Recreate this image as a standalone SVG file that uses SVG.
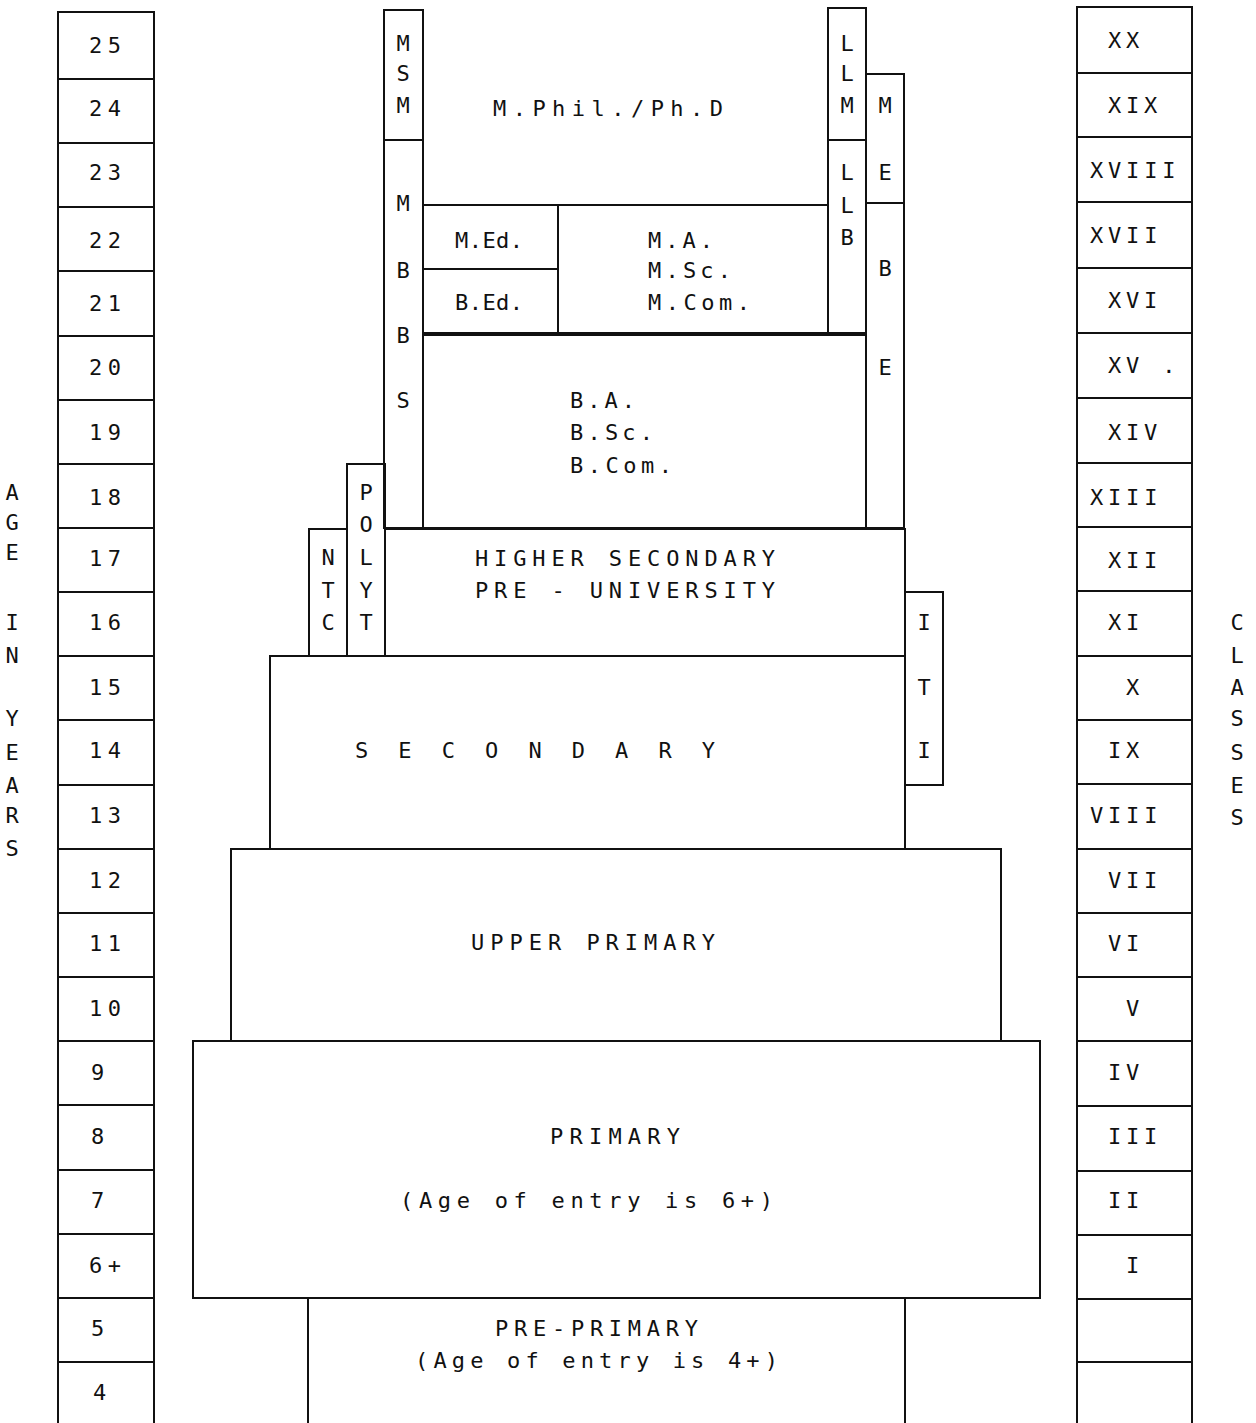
<svg xmlns="http://www.w3.org/2000/svg" width="1256" height="1423" viewBox="0 0 1256 1423">
<style>
rect,line,path{fill:none;stroke:#111;stroke-width:2}
text{font-family:"DejaVu Sans Mono","Liberation Mono",monospace;font-size:22px;fill:#111;letter-spacing:5px}
.v{text-anchor:middle;letter-spacing:0}
.a{letter-spacing:5.5px}
.c{letter-spacing:4.8px}
</style>
<rect width="1256" height="1423" fill="#fff" stroke="none" style="fill:#fff;stroke:none"/>
<g id="age-column">
<path d="M58,1423 V12 H154 V1423"/>
<line x1="58" y1="79" x2="154" y2="79"/><line x1="58" y1="143" x2="154" y2="143"/><line x1="58" y1="207" x2="154" y2="207"/><line x1="58" y1="271" x2="154" y2="271"/><line x1="58" y1="336" x2="154" y2="336"/><line x1="58" y1="400" x2="154" y2="400"/><line x1="58" y1="464" x2="154" y2="464"/><line x1="58" y1="528" x2="154" y2="528"/><line x1="58" y1="592" x2="154" y2="592"/><line x1="58" y1="656" x2="154" y2="656"/><line x1="58" y1="720" x2="154" y2="720"/><line x1="58" y1="785" x2="154" y2="785"/><line x1="58" y1="849" x2="154" y2="849"/><line x1="58" y1="913" x2="154" y2="913"/><line x1="58" y1="977" x2="154" y2="977"/><line x1="58" y1="1041" x2="154" y2="1041"/><line x1="58" y1="1105" x2="154" y2="1105"/><line x1="58" y1="1170" x2="154" y2="1170"/><line x1="58" y1="1234" x2="154" y2="1234"/><line x1="58" y1="1298" x2="154" y2="1298"/><line x1="58" y1="1362" x2="154" y2="1362"/>
<text x="89" y="53" class="a">25</text><text x="89" y="116" class="a">24</text><text x="89" y="180" class="a">23</text><text x="89" y="248" class="a">22</text><text x="89" y="311" class="a">21</text><text x="89" y="375" class="a">20</text><text x="89" y="440" class="a">19</text><text x="89" y="505" class="a">18</text><text x="89" y="566" class="a">17</text><text x="89" y="630" class="a">16</text><text x="89" y="695" class="a">15</text><text x="89" y="758" class="a">14</text><text x="89" y="823" class="a">13</text><text x="89" y="888" class="a">12</text><text x="89" y="951" class="a">11</text><text x="89" y="1016" class="a">10</text><text x="91" y="1080" class="a">9</text><text x="91" y="1144" class="a">8</text><text x="91" y="1208" class="a">7</text><text x="89" y="1273" class="a">6+</text><text x="91" y="1336" class="a">5</text><text x="93" y="1400" class="a">4</text>
</g>
<g id="age-label">
<text class="v" x="12" y="500">A</text><text class="v" x="12" y="530">G</text><text class="v" x="12" y="560">E</text><text class="v" x="12" y="630">I</text><text class="v" x="12" y="663">N</text><text class="v" x="12" y="726">Y</text><text class="v" x="12" y="760">E</text><text class="v" x="12" y="793">A</text><text class="v" x="12" y="823">R</text><text class="v" x="12" y="856">S</text>
</g>
<g id="class-column">
<path d="M1077,1423 V7 H1192 V1423"/>
<line x1="1077" y1="73" x2="1192" y2="73"/><line x1="1077" y1="137" x2="1192" y2="137"/><line x1="1077" y1="202" x2="1192" y2="202"/><line x1="1077" y1="268" x2="1192" y2="268"/><line x1="1077" y1="333" x2="1192" y2="333"/><line x1="1077" y1="398" x2="1192" y2="398"/><line x1="1077" y1="463" x2="1192" y2="463"/><line x1="1077" y1="527" x2="1192" y2="527"/><line x1="1077" y1="591" x2="1192" y2="591"/><line x1="1077" y1="656" x2="1192" y2="656"/><line x1="1077" y1="720" x2="1192" y2="720"/><line x1="1077" y1="784" x2="1192" y2="784"/><line x1="1077" y1="849" x2="1192" y2="849"/><line x1="1077" y1="913" x2="1192" y2="913"/><line x1="1077" y1="977" x2="1192" y2="977"/><line x1="1077" y1="1041" x2="1192" y2="1041"/><line x1="1077" y1="1106" x2="1192" y2="1106"/><line x1="1077" y1="1171" x2="1192" y2="1171"/><line x1="1077" y1="1235" x2="1192" y2="1235"/><line x1="1077" y1="1299" x2="1192" y2="1299"/><line x1="1077" y1="1362" x2="1192" y2="1362"/>
<text class="c" x="1108" y="48">XX</text><text class="c" x="1108" y="113">XIX</text><text class="c" x="1090" y="178">XVIII</text><text class="c" x="1090" y="243">XVII</text><text class="c" x="1108" y="308">XVI</text><text class="c" x="1108" y="373">XV .</text><text class="c" x="1108" y="440">XIV</text><text class="c" x="1090" y="505">XIII</text><text class="c" x="1108" y="568">XII</text><text class="c" x="1108" y="630">XI</text><text class="c" x="1126" y="695">X</text><text class="c" x="1108" y="758">IX</text><text class="c" x="1090" y="823">VIII</text><text class="c" x="1108" y="888">VII</text><text class="c" x="1108" y="951">VI</text><text class="c" x="1126" y="1016">V</text><text class="c" x="1108" y="1080">IV</text><text class="c" x="1108" y="1144">III</text><text class="c" x="1108" y="1208">II</text><text class="c" x="1126" y="1273">I</text>
</g>
<g id="classes-label">
<text class="v" x="1237" y="630">C</text><text class="v" x="1237" y="663">L</text><text class="v" x="1237" y="695">A</text><text class="v" x="1237" y="726">S</text><text class="v" x="1237" y="760">S</text><text class="v" x="1237" y="793">E</text><text class="v" x="1237" y="825">S</text>
</g>
<g id="pre-primary">
<path d="M308,1423 V1298 M905,1298 V1423"/>
<text x="495" y="1336" textLength="208" lengthAdjust="spacing">PRE-PRIMARY</text>
<text x="415" y="1368" textLength="368" lengthAdjust="spacing">(Age of entry is 4+)</text>
</g>
<g id="primary">
<rect x="193" y="1041" width="847" height="257"/>
<text x="550" y="1144" textLength="135" lengthAdjust="spacing">PRIMARY</text>
<text x="400" y="1208" textLength="378" lengthAdjust="spacing">(Age of entry is 6+)</text>
</g>
<g id="upper-primary">
<rect x="231" y="849" width="770" height="192"/>
<text x="471" y="950" textLength="249" lengthAdjust="spacing">UPPER PRIMARY</text>
</g>
<g id="secondary">
<rect x="270" y="656" width="635" height="193"/>
<text x="355" y="758" textLength="365" lengthAdjust="spacing">S E C O N D A R Y</text>
</g>
<g id="iti">
<rect x="905" y="592" width="38" height="193"/>
<text class="v" x="924" y="630">I</text><text class="v" x="924" y="695">T</text><text class="v" x="924" y="758">I</text>
</g>
<g id="higher-secondary">
<rect x="385" y="529" width="520" height="127"/>
<text x="475" y="566" textLength="305" lengthAdjust="spacing">HIGHER SECONDARY</text>
<text x="475" y="598" textLength="305" lengthAdjust="spacing">PRE - UNIVERSITY</text>
</g>
<g id="ntc">
<rect x="309" y="529" width="38" height="127"/>
<text class="v" x="328" y="565">N</text><text class="v" x="328" y="598">T</text><text class="v" x="328" y="630">C</text>
</g>
<g id="poly">
<rect x="347" y="464" width="38" height="192"/>
<text class="v" x="366" y="500">P</text><text class="v" x="366" y="532">O</text><text class="v" x="366" y="565">L</text><text class="v" x="366" y="598">Y</text><text class="v" x="366" y="630">T</text>
</g>
<g id="ba">
<rect x="423" y="335" width="443" height="193"/>
<text x="570" y="408" textLength="70" lengthAdjust="spacing">B.A.</text>
<text x="570" y="440" textLength="88" lengthAdjust="spacing">B.Sc.</text>
<text x="570" y="473" textLength="107" lengthAdjust="spacing">B.Com.</text>
</g>
<g id="mbbs">
<rect x="384" y="140" width="39" height="388"/>
<text class="v" x="403" y="211">M</text><text class="v" x="403" y="278">B</text><text class="v" x="403" y="343">B</text><text class="v" x="403" y="408">S</text>
</g>
<g id="msm">
<rect x="384" y="10" width="39" height="130"/>
<text class="v" x="403" y="51">M</text><text class="v" x="403" y="81">S</text><text class="v" x="403" y="113">M</text>
</g>
<g id="mphil">
<line x1="423" y1="205" x2="828" y2="205"/>
<text x="493" y="116" textLength="235" lengthAdjust="spacing">M.Phil./Ph.D</text>
</g>
<g id="med">
<rect x="423" y="205" width="135" height="64"/>
<text x="455" y="248" textLength="73" lengthAdjust="spacing">M.Ed.</text>
</g>
<g id="bed">
<rect x="423" y="269" width="135" height="64"/>
<text x="455" y="310" textLength="73" lengthAdjust="spacing">B.Ed.</text>
</g>
<g id="ma">
<rect x="558" y="205" width="270" height="128"/>
<text x="648" y="248" textLength="70" lengthAdjust="spacing">M.A.</text>
<text x="648" y="278" textLength="88" lengthAdjust="spacing">M.Sc.</text>
<text x="648" y="310" textLength="107" lengthAdjust="spacing">M.Com.</text>
</g>
<g id="llm">
<rect x="828" y="8" width="38" height="132"/>
<text class="v" x="847" y="51">L</text><text class="v" x="847" y="81">L</text><text class="v" x="847" y="113">M</text>
</g>
<g id="llb">
<rect x="828" y="140" width="38" height="193"/>
<text class="v" x="847" y="180">L</text><text class="v" x="847" y="213">L</text><text class="v" x="847" y="245">B</text>
</g>
<g id="me">
<rect x="866" y="74" width="38" height="129"/>
<text class="v" x="885" y="113">M</text><text class="v" x="885" y="180">E</text>
</g>
<g id="be">
<rect x="866" y="203" width="38" height="325"/>
<text class="v" x="885" y="276">B</text><text class="v" x="885" y="375">E</text>
</g>
<g id="connectors"></g>
</svg>
